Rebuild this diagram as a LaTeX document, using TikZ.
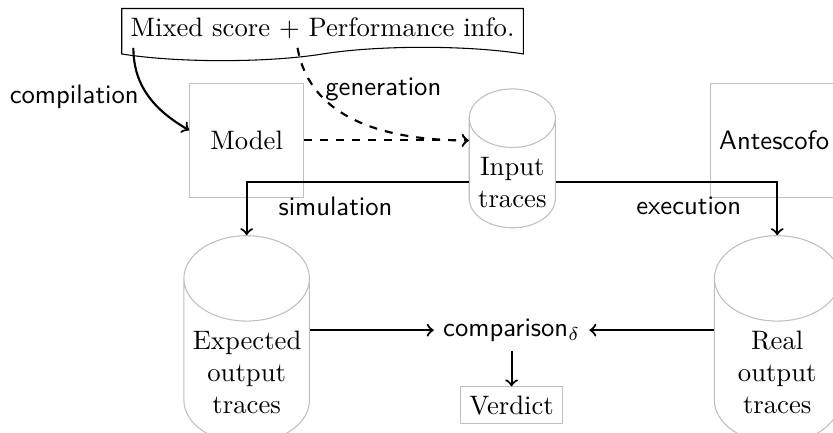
\documentclass[tikz,border=0pt]{standalone}
\usepackage{tikz}
\usetikzlibrary{shapes,arrows,positioning,calc}

\begin{document}
\begin{tikzpicture}[
    box/.style={draw=gray!50, minimum size=1.5cm},
    store/.style={draw=gray!50, cylinder, shape border rotate=90, aspect=0.68, align=center},
    bigstore/.style={store, text width=1.42cm},
    flow/.style={->, thick},
    tag/.style={font=\sffamily}
]
    \useasboundingbox (0,0) rectangle (10.975,-5.692);

    % Score and performance information
    \node[draw, tape, tape bend top=none, anchor=north] (score) at (4.25,-0.105) {Mixed score + Performance info.};

    % Model and Antescofo
    \node[box] (model) at (3.25,-1.85) {Model};
    \node[box, font=\sffamily] (antescofo) at (10.2,-1.85) {Antescofo};

    % Traces
    \node[store] (input) at (6.75,-2.4) {Input\\traces};
    \node[bigstore] (expected) at (3.25,-4.9) {Expected\\output\\traces};
    \node[bigstore] (real) at (10.24,-4.9) {Real\\output\\traces};
    \coordinate (inputleft) at (input.west |- model);

    % Comparison and verdict
    \node[tag] (comparison) at (6.74,-4.35) {comparison$_\delta$};
    \node[draw=gray!50] (verdict) at (6.74,-5.34) {Verdict};

    % Arrows
    \draw[flow] ($(score.south west)+(0.16,0)$) to[out=-90,in=150] node[midway,left,tag] {compilation} (model.170);
    \draw[flow, dashed] ($(score.south)+(-0.33,0)$) to[out=-80,in=180] node[pos=0.22,right,tag] {generation} (inputleft);
    \draw[flow, dashed] (model) -- (inputleft);
    \draw[flow] (input.west) -| node[pos=0.3,below=2pt,tag] {simulation} (expected.north);
    \draw[flow] (input.east) -| node[pos=0.3,below=2pt,tag] {execution} (real.north);
    \draw[flow] (expected.east |- comparison) -- (comparison);
    \draw[flow] (real.west |- comparison) -- (comparison);
    \draw[flow] (comparison) -- (verdict);
\end{tikzpicture}
\end{document}
